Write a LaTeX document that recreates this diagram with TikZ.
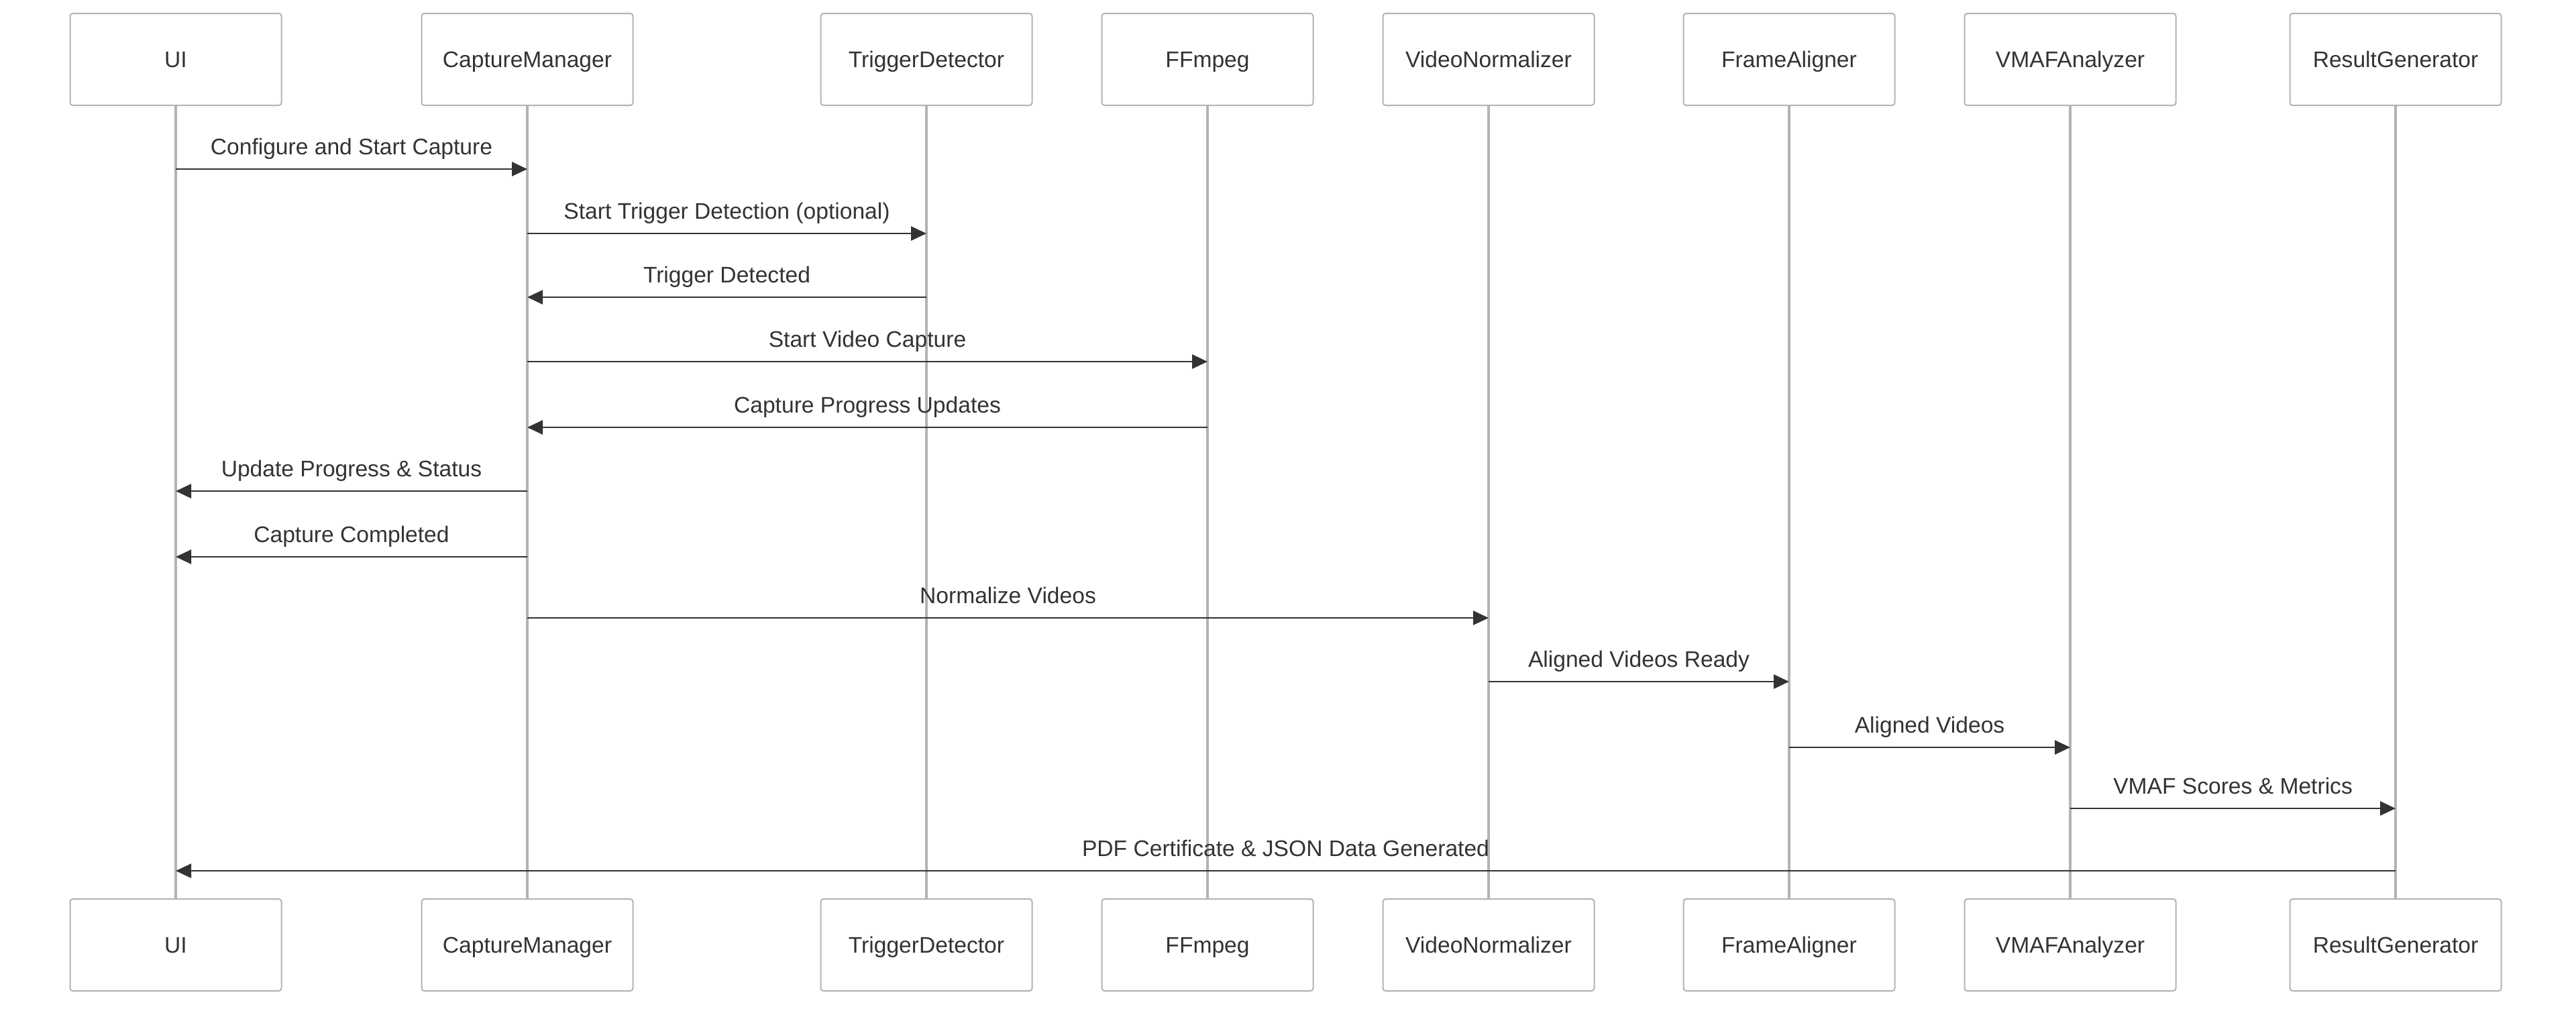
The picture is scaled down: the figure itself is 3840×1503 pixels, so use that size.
\documentclass[tikz,border=0pt]{standalone}
\usepackage{fontspec}
\setmainfont{Liberation Sans}
\usetikzlibrary{arrows.meta}

\definecolor{ink}{HTML}{333333}
\definecolor{rule}{HTML}{B3B3B3}

\tikzset{
  actor/.style={draw=rule, line width=0.5pt, fill=white, rounded corners=1pt,
    minimum width=78.75pt, minimum height=34.25pt, inner sep=0pt,
    text height=5.9pt, text depth=0pt, text=ink,
    font=\fontsize{8.4}{10}\selectfont},
  lifeline/.style={draw=rule, line width=1pt},
  msg/.style={draw=ink, line width=0.7pt,
    -{Triangle[length=5.75pt,width=5.25pt]}},
  msglabel/.style={anchor=base, inner sep=0pt, yshift=5.5pt, text=ink,
    font=\fontsize{8.4}{10}\selectfont},
}

\begin{document}
\begin{tikzpicture}[x=0.25pt, y=-0.25pt]
  % canvas
  \fill[white] (0,0) rectangle (3840,1503);
  \useasboundingbox (0,0) rectangle (3840,1503);

  % participant boxes, top and bottom
  \foreach \id/\xx/\name in {ui/262/UI, cm/786/CaptureManager,
      td/1381/TriggerDetector, ff/1800/FFmpeg, vn/2219/VideoNormalizer,
      fa/2667/FrameAligner, va/3086/VMAFAnalyzer, rg/3571/ResultGenerator}{
    \node[actor] (t-\id) at (\xx,88.5) {\name};
    \node[actor] (b-\id) at (\xx,1408.5) {\name};
  }

  % lifelines
  \foreach \id in {ui,cm,td,ff,vn,fa,va,rg}{
    \draw[lifeline] (t-\id.south) -- (b-\id.north);
  }

  % message rows
  \coordinate (r1) at (0,252);
  \coordinate (r2) at (0,348);
  \coordinate (r3) at (0,443);
  \coordinate (r4) at (0,539);
  \coordinate (r5) at (0,637);
  \coordinate (r6) at (0,732);
  \coordinate (r7) at (0,830);
  \coordinate (r8) at (0,921);
  \coordinate (r9) at (0,1016);
  \coordinate (r10) at (0,1114);
  \coordinate (r11) at (0,1205);
  \coordinate (r12) at (0,1298);

  % messages
  \draw[msg] (t-ui |- r1) -- (t-cm |- r1)
    node[msglabel, midway] {Configure and Start Capture};
  \draw[msg] (t-cm |- r2) -- (t-td |- r2)
    node[msglabel, midway] {Start Trigger Detection (optional)};
  \draw[msg] (t-td |- r3) -- (t-cm |- r3)
    node[msglabel, midway] {Trigger Detected};
  \draw[msg] (t-cm |- r4) -- (t-ff |- r4)
    node[msglabel, midway] {Start Video Capture};
  \draw[msg] (t-ff |- r5) -- (t-cm |- r5)
    node[msglabel, midway] {Capture Progress Updates};
  \draw[msg] (t-cm |- r6) -- (t-ui |- r6)
    node[msglabel, midway] {Update Progress \& Status};
  \draw[msg] (t-cm |- r7) -- (t-ui |- r7)
    node[msglabel, midway] {Capture Completed};
  \draw[msg] (t-cm |- r8) -- (t-vn |- r8)
    node[msglabel, midway] {Normalize Videos};
  \draw[msg] (t-vn |- r9) -- (t-fa |- r9)
    node[msglabel, midway] {Aligned Videos Ready};
  \draw[msg] (t-fa |- r10) -- (t-va |- r10)
    node[msglabel, midway] {Aligned Videos};
  \draw[msg] (t-va |- r11) -- (t-rg |- r11)
    node[msglabel, midway] {VMAF Scores \& Metrics};
  \draw[msg] (t-rg |- r12) -- (t-ui |- r12)
    node[msglabel, midway] {PDF Certificate \& JSON Data Generated};
\end{tikzpicture}
\end{document}
